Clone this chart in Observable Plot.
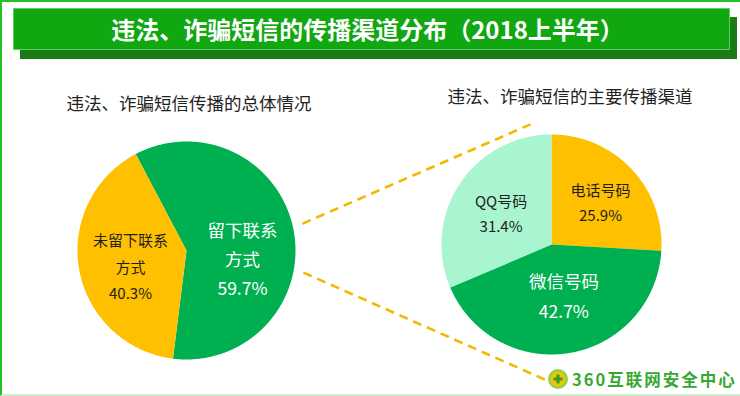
<!DOCTYPE html>
<html>
<head>
<meta charset="utf-8">
<script src="https://cdn.jsdelivr.net/npm/d3@7"></script>
<script src="https://cdn.jsdelivr.net/npm/@observablehq/plot@0.6"></script>
<style>
  html, body { margin: 0; padding: 0; background: #fff; }
  body { font-family: "Noto Sans CJK SC", "Noto Sans", sans-serif; }
  #wrap { position: relative; width: 740px; height: 396px; overflow: hidden; background: #fff; }
  #frame { position: absolute; left: 0; top: 0; width: 738px; height: 392px;
           border-top: 2px solid #22c022; border-left: 2px solid #22c022; border-bottom: 2px solid #cdeecd; }
  #title { position: absolute; left: 13px; top: 8px; width: 715px; height: 40px;
           background: #10a710; border: 1px solid #63cf63; box-shadow: 7px 9px 0 #1a7a16;
           color: #fff; font-weight: bold; font-size: 24px; line-height: 40px; text-align: center;
           letter-spacing: 0px; text-indent: -8px; }
  #chart { position: absolute; left: 0; top: 0; }
  .sub { position: absolute; font-size: 17.5px; color: #222; white-space: nowrap; transform: translate(-50%, -50%); }
  #logo { position: absolute; left: 547px; top: 367px; height: 24px; display: flex; align-items: center; }
  #logo span { color: #36a831; font-size: 16.5px; font-weight: bold; letter-spacing: 2px; margin-left: 3px; white-space: nowrap; }
</style>
</head>
<body>
<div id="wrap">
  <div id="frame"></div>
  <div id="chart"></div>
  <div id="title">违法、诈骗短信的传播渠道分布（2018上半年）</div>
  <div class="sub" style="left:189px; top:102px;">违法、诈骗短信传播的总体情况</div>
  <div class="sub" style="left:570px; top:95px;">违法、诈骗短信的主要传播渠道</div>
  <div id="logo">
    <svg width="22" height="22" viewBox="0 0 22 22">
      <circle cx="11" cy="11" r="10" fill="#8fd14f"/>
      <circle cx="11" cy="11" r="7.5" fill="#f5c400"/>
      <path d="M9.5 6.5h3v3h3v3h-3v3h-3v-3h-3v-3h3z" fill="#2e9e2e"/>
    </svg>
    <span>360互联网安全中心</span>
  </div>
</div>
<script>
// ---- data ----
const overallCategories = ["留下联系方式", "未留下联系方式"];
const overallValues = [59.7, 40.3];
const overallLabels = ["留下联系\n方式\n59.7%", "未留下联系\n方式\n40.3%"];

const channelCategories = ["电话号码", "微信号码", "QQ号码"];
const channelValues = [25.9, 42.7, 31.4];
const channelLabels = ["电话号码\n25.9%", "微信号码\n42.7%", "QQ号码\n31.4%"];

// ---- layout ----
const W = 740, H = 396;
const colorDomain = ["留下联系方式", "未留下联系方式", "电话号码", "微信号码", "QQ号码"];
const colorRange  = ["#00b050", "#ffc000", "#ffc000", "#00b050", "#a9f5cf"];
const darkText = "#1e1e1e";
const pies = [
  {cats: overallCategories, vals: overallValues, labels: overallLabels, cx: 186, cy: 250, r: 109,
   start: -27.8 * Math.PI / 180, fontSizes: [17.5, 15], lineHeights: [1.65, 1.75],
   nudge: [[-3, 17], [3, 3]]},
  {cats: channelCategories, vals: channelValues, labels: channelLabels, cx: 551, cy: 244, r: 110,
   start: 0, fontSizes: [15, 17.5, 15], lineHeights: [1.67, 1.75, 1.67],
   nudge: [[5, -2], [2, -11], [0, 0]]}
];

const polys = [];
const labelRows = [];
pies.forEach((p, pi) => {
  const arcs = d3.pie().sort(null).value(d => d).startAngle(p.start).endAngle(p.start + 2 * Math.PI)(p.vals);
  arcs.forEach((a, i) => {
    const key = pi + "-" + i;
    const cat = p.cats[i];
    polys.push({key, cat, x: p.cx, y: p.cy});
    const n = Math.max(8, Math.ceil((a.endAngle - a.startAngle) / (Math.PI / 360)));
    for (let k = 0; k <= n; k++) {
      const t = a.startAngle + (a.endAngle - a.startAngle) * k / n;
      polys.push({key, cat, x: p.cx + p.r * Math.sin(t), y: p.cy - p.r * Math.cos(t)});
    }
    polys.push({key, cat, x: p.cx, y: p.cy});
    const mid = (a.startAngle + a.endAngle) / 2;
    const k = 0.55 * p.r;
    labelRows.push({
      text: p.labels[i], cat,
      x: p.cx + k * Math.sin(mid) + p.nudge[i][0],
      y: p.cy - k * Math.cos(mid) + p.nudge[i][1],
      size: p.fontSizes[i], lh: p.lineHeights[i]
    });
  });
});

// dashed connectors from the overall pie to the channel pie
const L = pies[0], R = pies[1];
const deg = Math.PI / 180;
const connectors = [
  {x1: L.cx + (L.r + 10) * Math.cos(-13 * deg), y1: L.cy + (L.r + 10) * Math.sin(-13 * deg),
   x2: R.cx + 122 * Math.cos(-99.9 * deg), y2: R.cy + 122 * Math.sin(-99.9 * deg)},
  {x1: L.cx + (L.r + 10) * Math.cos(10.7 * deg), y1: L.cy + (L.r + 10) * Math.sin(10.7 * deg),
   x2: R.cx + 136 * Math.cos(92 * deg), y2: R.cy + 136 * Math.sin(92 * deg)}
];

const textColor = cat => (cat === "留下联系方式" || cat === "微信号码") ? "#ffffff" : darkText;

const marks = [
  Plot.link(connectors, {x1: "x1", y1: "y1", x2: "x2", y2: "y2", stroke: "#f5b800",
    strokeWidth: 2.6, strokeDasharray: "9,6"}),
  Plot.line(polys, {x: "x", y: "y", z: "key", fill: "cat", stroke: "none", curve: "linear"})
];
// text marks grouped by font size / line height
const groups = d3.groups(labelRows, d => d.size + "|" + d.lh);
groups.forEach(([g, rows]) => {
  marks.push(Plot.text(rows, {x: "x", y: "y", text: "text", fill: d => textColor(d.cat),
    fontSize: rows[0].size, lineHeight: rows[0].lh,
    fontFamily: "Noto Sans CJK SC, Noto Sans, sans-serif"}));
});

const chart = Plot.plot({
  width: W, height: H, margin: 0,
  x: {domain: [0, W], range: [0, W], axis: null},
  y: {domain: [0, H], range: [0, H], axis: null},
  color: {type: "ordinal", domain: colorDomain, range: colorRange},
  style: {background: "transparent", overflow: "visible"},
  marks
});
document.getElementById("chart").appendChild(chart);
</script>
</body>
</html>
